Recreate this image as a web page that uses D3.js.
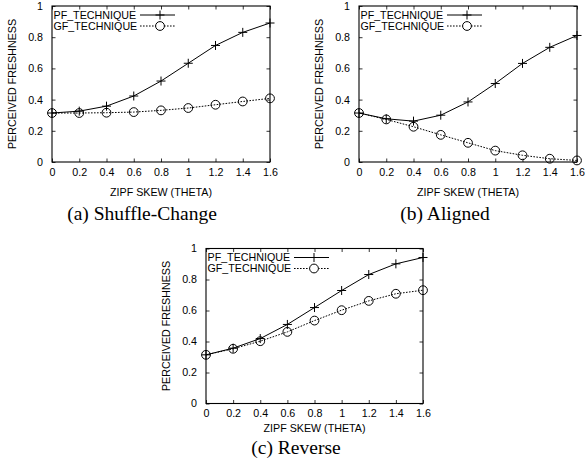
<!DOCTYPE html>
<html>
<head>
<meta charset="utf-8">
<script src="https://cdn.jsdelivr.net/npm/d3@7"></script>
<style>
body{margin:0;background:#fff;}
svg{display:block;}
.tick text,.lab{font-family:"Liberation Sans",Arial,sans-serif;font-size:10.7px;fill:#000;}
.cap{font-family:"Liberation Serif","Times New Roman",Times,serif;font-size:19.5px;fill:#000;}
</style>
</head>
<body>
<svg id="fig"></svg>
<script>
// data
var thetas = [0,0.2,0.4,0.6,0.8,1.0,1.2,1.4,1.6]
var yTicks = [0,0.2,0.4,0.6,0.8,1]
var seriesNames = ["PF_TECHNIQUE","GF_TECHNIQUE"]

var pfShuffle = [0.314,0.326,0.358,0.423,0.519,0.633,0.747,0.831,0.891]
var gfShuffle = [0.314,0.314,0.316,0.320,0.331,0.346,0.367,0.388,0.408]
var pfAligned = [0.314,0.277,0.262,0.300,0.385,0.503,0.632,0.735,0.811]
var gfAligned = [0.314,0.273,0.226,0.174,0.123,0.073,0.043,0.021,0.010]
var pfReverse = [0.314,0.357,0.419,0.510,0.619,0.729,0.832,0.901,0.942]
var gfReverse = [0.314,0.353,0.402,0.462,0.535,0.602,0.662,0.708,0.731]

var captions = ["(a) Shuffle-Change","(b) Aligned","(c) Reverse"]

var svg = d3.select("#fig").attr("width",585).attr("height",466)

var panels = [
    {cap:captions[0],pf:pfShuffle,gf:gfShuffle,left:52,top:6,w:218,h:156,titleDy:34,capDy:58,capX:142},
    {cap:captions[1],pf:pfAligned,gf:gfAligned,left:359,top:6,w:218,h:156,titleDy:34,capDy:58,capX:445},
    {cap:captions[2],pf:pfReverse,gf:gfReverse,left:206,top:248.5,w:217,h:155,titleDy:28,capDy:50,capX:296}
]

var fmt = d3.format("~g")

var drawPanel = function(p)
{
    var xScale = d3.scaleLinear().domain([0,1.6]).range([0,p.w])
    var yScale = d3.scaleLinear().domain([0,1]).range([p.h,0])

    var g = svg.append("g")
        .attr("transform","translate("+p.left+","+p.top+")")

    // axes, ticks pointing inward, mirrored on the other side
    var xAxis = d3.axisBottom(xScale).tickValues(thetas).tickFormat(fmt)
        .tickSizeInner(-3.5).tickSizeOuter(0).tickPadding(6)
    var yAxis = d3.axisLeft(yScale).tickValues(yTicks).tickFormat(fmt)
        .tickSizeInner(-3.5).tickSizeOuter(0).tickPadding(9)

    var gx = g.append("g").attr("transform","translate(0,"+p.h+")").call(xAxis)
    var gy = g.append("g").call(yAxis)
    g.append("g").call(d3.axisTop(xScale).tickValues(thetas).tickFormat("")
        .tickSizeInner(-3.5).tickSizeOuter(0))
    g.append("g").attr("transform","translate("+p.w+",0)")
        .call(d3.axisRight(yScale).tickValues(yTicks).tickFormat("")
        .tickSizeInner(-3.5).tickSizeOuter(0))
    g.selectAll(".domain").remove()
    g.selectAll(".tick line").attr("stroke","#000").attr("stroke-width",0.8)
    gx.selectAll(".tick text").attr("dy","0.71em")

    g.append("rect")
        .attr("width",p.w).attr("height",p.h)
        .attr("fill","none").attr("stroke","#000").attr("stroke-width",1.1)

    // labels
    g.append("text").classed("lab",true)
        .text("ZIPF SKEW (THETA)")
        .attr("text-anchor","middle")
        .attr("x",p.w/2).attr("y",p.h+p.titleDy)
    g.append("g")
        .attr("transform","translate(-36,"+(p.h/2)+")")
        .append("text").classed("lab",true)
        .text("PERCEIVED FRESHNESS")
        .attr("text-anchor","middle")
        .attr("transform","rotate(270)")
    svg.append("text").classed("cap",true)
        .text(p.cap)
        .attr("text-anchor","middle")
        .attr("x",p.capX).attr("y",p.top+p.h+p.capDy)

    var line = d3.line()
        .x(function(d,i){return xScale(thetas[i])})
        .y(function(d){return yScale(d)})

    // GF first so PF draws on top
    g.append("path").datum(p.gf).attr("d",line)
        .attr("fill","none").attr("stroke","#000").attr("stroke-width",1)
        .attr("stroke-dasharray","1.6,1.4")
    g.append("path").datum(p.pf).attr("d",line)
        .attr("fill","none").attr("stroke","#000").attr("stroke-width",1)

    g.selectAll("circle.gf").data(p.gf).enter()
        .append("circle").classed("gf",true)
        .attr("cx",function(d,i){return xScale(thetas[i])})
        .attr("cy",function(d){return yScale(d)})
        .attr("r",4.4)
        .attr("fill","none").attr("stroke","#000").attr("stroke-width",1)

    var plus = function(sel,x,y)
    {
        sel.append("path")
            .attr("d","M"+(x-4.5)+","+y+"H"+(x+4.5)+"M"+x+","+(y-4.5)+"V"+(y+4.5))
            .attr("stroke","#000").attr("stroke-width",1)
    }
    p.pf.forEach(function(d,i){ plus(g,xScale(thetas[i]),yScale(d)) })

    // legend
    var leg = g.append("g")
    leg.append("text").classed("lab",true).text(seriesNames[0])
        .attr("x",1.5).attr("y",12.8)
    leg.append("text").classed("lab",true).text(seriesNames[1])
        .attr("x",1.5).attr("y",23.8)
    leg.append("line").attr("x1",88).attr("x2",123).attr("y1",9).attr("y2",9)
        .attr("stroke","#000").attr("stroke-width",1)
    plus(leg,108,9)
    leg.append("line").attr("x1",88).attr("x2",123).attr("y1",20).attr("y2",20)
        .attr("stroke","#000").attr("stroke-width",1).attr("stroke-dasharray","1.6,1.4")
    leg.append("circle").attr("cx",108).attr("cy",20).attr("r",4.4)
        .attr("fill","#fff").attr("stroke","#000").attr("stroke-width",1)
}

panels.forEach(drawPanel)
</script>
</body>
</html>
